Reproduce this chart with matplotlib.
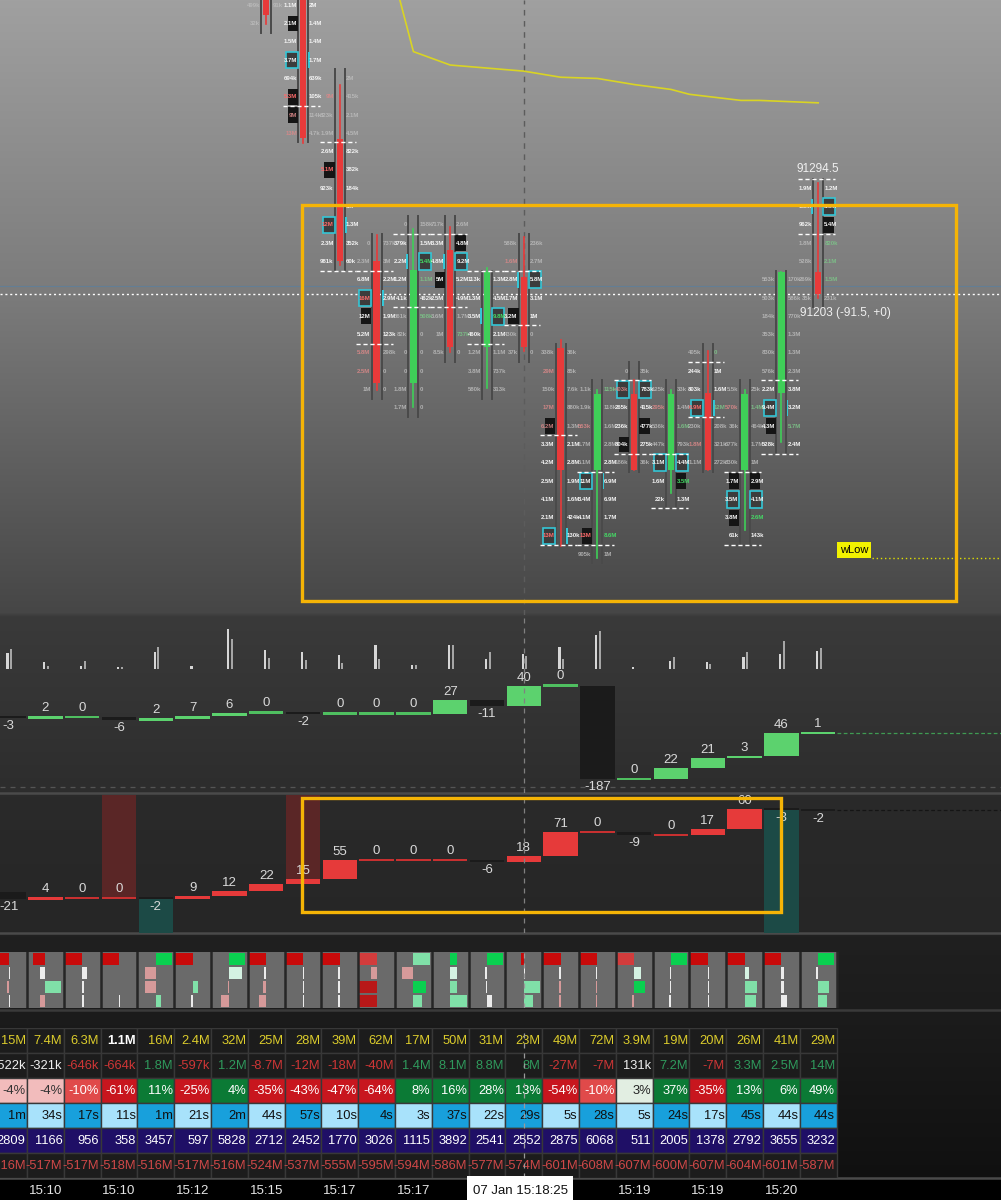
import numpy as np
import matplotlib.pyplot as plt
from matplotlib.patches import Rectangle

plt.rcParams['font.family'] = ['Liberation Sans', 'DejaVu Sans']

W, H = 1001, 1200
X0, COLW = 8.6, 36.8            # pixel centre of column 0, column width
XL, XR = -X0 / COLW, (W - X0) / COLW

# ---------------- data ----------------
time_labels = ['15:10', '15:10', '15:12', '15:15', '15:17', '15:17', '15:19', '15:19', '15:20']
time_cols = [1, 3, 5, 7, 9, 11, 17, 19, 21]
cursor_col = 14
cursor_label = '07 Jan 15:18:25'

# footprint candles: col, open, high, low, close, top row price, rows (bid, style, ask, style), value area lines
candles = [
    (7, 91455, 91460, 91425, 91432, 91440,
     [('499k', 'f', '91k', 'f'), ('32k', 'f', '', '')], []),
    (8, 91455, 91460, 91327, 91331, 91440,
     [('1.1M', 'w', '2M', 'w'), ('2.1M', 'wb', '1.4M', 'w'), ('1.5M', 'w', '1.4M', 'w'),
      ('3.7M', 'wc', '1.7M', 'w'), ('694k', 'w', '639k', 'w'), ('5.3M', 'rb', '105k', 'w'),
      ('9M', 'frb', '114k', 'f'), ('13M', 'fr', '4.7k', 'f')], [91357.5]),
    (9, 91330, 91375, 91227, 91230, 91380,
     [('', '', '2M', 'f'), ('9M', 'fr', '415k', 'f'), ('823k', 'f', '2.1M', 'f'),
      ('1.9M', 'f', '4.5M', 'f'), ('2.6M', 'w', '822k', 'w'), ('5.1M', 'rb', '382k', 'w'),
      ('923k', 'w', '184k', 'w'), ('', '', '3M', 'w'), ('12M', 'rc', '1.3M', 'w'),
      ('2.3M', 'w', '352k', 'w'), ('981k', 'w', '60k', 'w')], [91327.5, 91222.5]),
    (10, 91230, 91252, 91125, 91130, 91245,
     [('0', 'f', '737k', 'f'), ('2.3M', 'f', '3M', 'f'), ('6.8M', 'w', '2.2M', 'w'),
      ('16M', 'rc', '2.9M', 'w'), ('12M', 'wb', '1.9M', 'w'), ('5.2M', 'w', '123k', 'w'),
      ('5.8M', 'fr', '298k', 'f'), ('2.5M', 'fr', '0', 'f'), ('1M', 'f', '0', 'f')],
     [91222.5, 91162.5]),
    (11, 91130, 91257, 91111, 91223, 91260,
     [('0', 'f', '158k', 'f'), ('379k', 'w', '1.5M', 'w'), ('2.2M', 'w', '5.4M', 'gc'),
      ('1.2M', 'w', '1.1M', 'fg'), ('4.1k', 'w', '462k', 'w'), ('361k', 'f', '508k', 'fg'),
      ('82k', 'f', '0', 'f'), ('0', 'f', '0', 'f'), ('0', 'f', '0', 'f'),
      ('1.8M', 'f', '0', 'f'), ('1.7M', 'f', '0', 'f')], [91252.5, 91192.5]),
    (12, 91239, 91258, 91156, 91160, 91260,
     [('717k', 'f', '2.6M', 'f'), ('3.3M', 'w', '4.8M', 'wb'), ('4.8M', 'w', '9.2M', 'wc'),
      ('5M', 'wb', '5.2M', 'w'), ('2.5M', 'w', '4.9M', 'w'), ('3.6M', 'f', '1.7M', 'f'),
      ('1M', 'f', '737k', 'fg'), ('8.5k', 'f', '0', 'f')], [91252.5, 91192.5]),
    (13, 91160, 91225, 91126, 91221, 91215,
     [('113k', 'w', '1.3M', 'w'), ('1.3M', 'w', '4.5M', 'w'), ('3.5M', 'w', '9.8M', 'gc'),
      ('460k', 'w', '2.1M', 'w'), ('1.2M', 'f', '1.1M', 'f'), ('3.8M', 'f', '737k', 'f'),
      ('580k', 'f', '313k', 'f')], [91222.5, 91162.5]),
    (14, 91217, 91250, 91157, 91160, 91245,
     [('588k', 'f', '236k', 'f'), ('1.6M', 'fr', '2.7M', 'f'), ('2.8M', 'w', '5.8M', 'wc'),
      ('1.7M', 'w', '3.1M', 'w'), ('3.2M', 'wb', '1M', 'w'), ('430k', 'f', '0', 'f'),
      ('37k', 'f', '0', 'f')], [91222.5, 91177.5]),
    (15, 91159, 91166, 90997, 91059, 91155,
     [('338k', 'f', '36k', 'f'), ('29M', 'fr', '85k', 'f'), ('150k', 'f', '7.6k', 'f'),
      ('17M', 'fr', '880k', 'f'), ('6.2M', 'frb', '1.3M', 'f'), ('3.3M', 'w', '2.1M', 'w'),
      ('4.2M', 'w', '2.8M', 'w'), ('2.5M', 'w', '1.9M', 'w'), ('4.1M', 'w', '1.6M', 'w'),
      ('2.1M', 'w', '424k', 'w'), ('13M', 'rc', '130k', 'w')], [91087.5, 90997.5]),
    (16, 91059, 91125, 90987, 91121, 91125,
     [('1.1k', 'f', '115k', 'fg'), ('1.9k', 'f', '118k', 'f'), ('553k', 'fr', '1.6M', 'f'),
      ('1.7M', 'f', '2.8M', 'f'), ('5.1M', 'f', '2.8M', 'w'), ('11M', 'wc', '6.9M', 'w'),
      ('3.4M', 'w', '6.9M', 'w'), ('4.1M', 'w', '1.7M', 'w'), ('13M', 'rb', '8.6M', 'g'),
      ('905k', 'f', '1M', 'f')], [91057.5, 90997.5]),
    (17, 91121, 91133, 91059, 91059, 91140,
     [('0', 'f', '35k', 'f'), ('403k', 'frc', '783k', 'wc'), ('265k', 'w', '415k', 'w'),
      ('236k', 'w', '477k', 'wb'), ('804k', 'wb', '275k', 'w'), ('186k', 'f', '36k', 'f')],
     [91132.5, 91072.5]),
    (18, 91059, 91125, 91040, 91121, 91125,
     [('125k', 'f', '33k', 'f'), ('295k', 'fr', '1.4M', 'f'), ('536k', 'f', '1.6M', 'fg'),
      ('447k', 'f', '793k', 'f'), ('3.1M', 'wc', '4.4M', 'wc'), ('1.6M', 'w', '3.5M', 'gb'),
      ('22k', 'w', '1.3M', 'w')], [91072.5, 91027.5]),
    (19, 91122, 91157, 91059, 91059, 91155,
     [('405k', 'f', '0', 'fg'), ('244k', 'w', '1M', 'w'), ('803k', 'w', '1.6M', 'w'),
      ('6.9M', 'rc', '12M', 'fg'), ('230k', 'f', '208k', 'f'), ('1.8M', 'fr', '321k', 'f'),
      ('1.1M', 'f', '272k', 'f')], [91147.5, 91102.5]),
    (20, 91059, 91125, 91010, 91121, 91125,
     [('5.5k', 'f', '25k', 'f'), ('570k', 'fr', '1.4M', 'fg'), ('36k', 'f', '464k', 'f'),
      ('677k', 'f', '1.7M', 'f'), ('830k', 'f', '1M', 'f'), ('1.7M', 'wb', '2.9M', 'wb'),
      ('3.5M', 'wc', '4.1M', 'wc'), ('3.8M', 'wb', '2.6M', 'g'), ('61k', 'w', '143k', 'w')],
     [91057.5, 90997.5]),
    (21, 91122, 91221, 91082, 91221, 91215,
     [('553k', 'f', '170k', 'f'), ('503k', 'f', '586k', 'f'), ('184k', 'f', '770k', 'f'),
      ('353k', 'f', '1.3M', 'f'), ('830k', 'f', '1.3M', 'f'), ('576k', 'f', '2.3M', 'f'),
      ('2.2M', 'w', '3.8M', 'w'), ('9.4M', 'wc', '3.2M', 'w'), ('4.3M', 'wb', '5.7M', 'fg'),
      ('528k', 'w', '2.4M', 'w')], [91132.5, 91072.5]),
    (22, 91221, 91294.5, 91200, 91203, 91290,
     [('1.9M', 'w', '1.2M', 'w'), ('1.5M', 'w', '5.8M', 'wc'), ('962k', 'w', '5.4M', 'wb'),
      ('1.8M', 'f', '820k', 'fg'), ('528k', 'f', '2.1M', 'fg'), ('269k', 'f', '1.5M', 'fg'),
      ('35k', 'f', '231k', 'f')], [91297.5, 91252.5]),
]
last_high = 91294.5
last_close = 91203
last_change = '(-91.5, +0)'
wlow_price = 90987

vwap_x = [10.6, 11.0, 12.0, 14.0, 15.0, 16.0, 17.0, 18.0, 18.5, 19.9, 20.4, 22.0]
vwap_p = [91448, 91402, 91391, 91386, 91381, 91380, 91375, 91371, 91367, 91362, 91362, 91360]

vol_a = [16, 7, 3, 2, 17, 3, 40, 19, 17, 14, 24, 4, 24, 10, 15, 22, 34, 2, 8, 7, 12, 15, 18]
vol_b = [20, 3, 8, 2, 22, 0, 30, 11, 9, 6, 10, 4, 24, 17, 13, 10, 38, 0, 12, 5, 17, 28, 21]

delta_bars = [-3, 2, 0, -6, 2, 7, 6, 0, -2, 0, 0, 0, 27, -11, 40, 0, -187, 0, 22, 21, 3, 46, 1]
cvd_bars = [-21, 4, 0, 0, -2, 9, 12, 22, 15, 55, 0, 0, 0, -6, 18, 71, 0, -9, 0, 17, 60, -3, -2]
cvd_shade = [(3, 'up'), (8, 'up'), (4, 'down'), (21, 'down')]

# heatmap: per column 4 sub rows of (signed size, tone)
heat = [
    [(-0.27, 'R'), (0.04, 'w'), (-0.04, 'p'), (0.04, 'w')],
    [(-0.33, 'R'), (-0.14, 'w'), (0.43, 'g'), (-0.16, 'p')],
    [(-0.49, 'R'), (0.14, 'w'), (0.05, 'w'), (0.05, 'w')],
    [(-0.49, 'R'), None, None, (0.04, 'w')],
    [(0.43, 'G'), (-0.30, 'p'), (-0.30, 'p'), (0.14, 'g')],
    [(-0.49, 'R'), None, (0.16, 'g'), (-0.05, 'w')],
    [(0.43, 'G'), (0.35, 'm'), (-0.05, 'p'), (-0.22, 'p')],
    [(-0.49, 'R'), (-0.05, 'w'), (-0.08, 'p'), (-0.19, 'p')],
    [(-0.49, 'R'), (0.04, 'w'), (0.04, 'w'), (0.04, 'w')],
    [(-0.49, 'R'), (-0.04, 'w'), (-0.04, 'w'), (-0.05, 'w')],
    [(-0.49, 'L'), (-0.14, 'p'), (-0.49, 'D'), (-0.49, 'D')],
    [(0.46, 'g'), (-0.30, 'p'), (0.35, 'G'), (0.24, 'g')],
    [(0.19, 'G'), (0.19, 'm'), (0.19, 'g'), (0.46, 'g')],
    [(0.43, 'G'), (-0.05, 'w'), (-0.04, 'w'), (0.14, 'w')],
    [(-0.08, 'R'), (0.04, 'w'), (0.43, 'g'), (0.24, 'g')],
    [(-0.49, 'R'), (-0.05, 'w'), (-0.05, 'p'), (-0.05, 'p')],
    [(-0.49, 'R'), (-0.04, 'w'), (-0.05, 'p'), (-0.05, 'p')],
    [(-0.49, 'L'), (0.19, 'm'), (0.30, 'G'), (-0.05, 'p')],
    [(0.43, 'G'), (-0.04, 'w'), (-0.04, 'w'), (-0.05, 'w')],
    [(-0.49, 'R'), (0.04, 'w'), (0.04, 'w'), (0.04, 'w')],
    [(-0.49, 'R'), (0.11, 'm'), (0.35, 'g'), (0.30, 'g')],
    [(-0.49, 'R'), (0.08, 'w'), (0.08, 'w'), (0.16, 'w')],
    [(0.43, 'G'), (-0.05, 'w'), (0.30, 'g'), (0.24, 'g')],
]

tbl_volume = [15, 7.4, 6.3, 1.1, 16, 2.4, 32, 25, 28, 39, 62, 17, 50, 31, 23, 49, 72, 3.9, 19, 20, 26, 41, 29]
tbl_delta = [-522, -321, -646, -664, 1800, -597, 1200, -8700, -12000, -18000, -40000, 1400, 8100,
             8800, 8000, -27000, -7000, 131, 7200, -7000, 3300, 2500, 14000]
tbl_pct = [-4, -4, -10, -61, 11, -25, 4, -35, -43, -47, -64, 8, 16, 28, 13, -54, -10, 3, 37, -35, 13, 6, 49]
tbl_dur = ['1m', '34s', '17s', '11s', '1m', '21s', '2m', '44s', '57s', '10s', '4s', '3s', '37s',
           '22s', '29s', '5s', '28s', '5s', '24s', '17s', '45s', '44s', '44s']
tbl_trades = [2809, 1166, 956, 358, 3457, 597, 5828, 2712, 2452, 1770, 3026, 1115, 3892, 2541,
              2552, 2875, 6068, 511, 2005, 1378, 2792, 3655, 3232]
tbl_cvd = [-516, -517, -517, -518, -516, -517, -516, -524, -537, -555, -595, -594, -586, -577,
           -574, -601, -608, -607, -600, -607, -604, -601, -587]

# ---------------- styles ----------------
RED, GREEN = '#e83a3a', '#3fcf58'
TONES = {'w': ('#f4f4f4', 1.0), 'f': ('#bdbdbd', 0.85), 'r': ('#ff6b6b', 1.0),
         'fr': ('#d98888', 0.9), 'g': ('#45d865', 1.0), 'fg': ('#7cc488', 0.9)}
HEAT = {'R': '#c80a0a', 'L': '#d23c3c', 'D': '#b81818', 'G': '#0ad050', 'g': '#80e0a8',
        'm': '#d4f2e2', 'p': '#d69a9a', 'w': '#ececec'}


def panel(top, bottom):
    ax = fig.add_axes([0, 1 - bottom / H, 1, (bottom - top) / H])
    ax.set_xlim(XL, XR)
    ax.set_axis_off()
    return ax


fig = plt.figure(figsize=(W / 100, H / 100), dpi=100)

# background gradient
ax_bg = fig.add_axes([0, 0, 1, 1])
ax_bg.set_axis_off()
stops_y = [0, 300, 612, 616, 700, 790, 796, 930, 936, 1010, 1178, 1180, 1200]
stops_v = [160, 122, 70, 58, 52, 45, 42, 38, 32, 28, 16, 0, 0]
g = np.interp(np.arange(H), stops_y, stops_v) / 255
ax_bg.imshow(np.repeat(g[:, None, None], 3, axis=2), aspect='auto', extent=[0, 1, 1, 0])
ax_bg.set_xlim(0, 1)
ax_bg.set_ylim(1, 0)
for yy, c in [(793, '#4a4a4a'), (933, '#4a4a4a'), (1010, '#3a3a3a'), (1178, '#4a4a4a')]:
    ax_bg.axhline(yy / H, color=c, lw=1.8)

# ---------------- main footprint panel ----------------
ax = panel(0, 615)
ax.set_ylim(90940.2, 91444.3)
ax.axvline(cursor_col, color='#5c5c5c', ls=(0, (4, 4)), lw=1, zorder=1)
ax.axhline(91210, color='#5d7f9c', lw=0.8, alpha=0.8, zorder=1)
ax.axhline(last_close, color='white', ls=(0, (1.5, 2)), lw=1, zorder=1)
ax.plot(vwap_x, vwap_p, color='#d9d424', lw=1.2, zorder=2)

for k, o, hi, lo, c, top, rows, vals in candles:
    col = RED if c < o else GREEN
    bot = top - 15 * (len(rows) - 1)
    for dx in (-0.135, 0.135):
        ax.plot([k + dx, k + dx], [top + 7.5, bot - 7.5], color='#4a4a4a', lw=1.4, zorder=2)
    ax.plot([k, k], [lo, hi], color=col, lw=1.2, zorder=3)
    ax.add_patch(Rectangle((k - 0.085, min(o, c)), 0.17, abs(o - c), fc=col, ec='none', zorder=3))
    for v in vals:
        ax.plot([k - 0.55, k + 0.45], [v, v], color='white', ls=(0, (3, 2)), lw=1, zorder=5)
    for i, (lt, ls, rt, rs) in enumerate(rows):
        p = top - 15 * i
        sides = [(lt, ls, -1), (rt, rs, 1)]
        boxes = [s[-1] if s and s[-1] in 'cb' else '' for _, s, _ in sides]
        for (txt, st, sgn), box, other in zip(sides, boxes, boxes[::-1]):
            if box == 'b':
                x0 = k - 0.42 if sgn < 0 else k + 0.14
                ax.add_patch(Rectangle((x0, p - 6.5), 0.28, 13, fc='#151515', ec='none', zorder=3))
            if box == 'c':
                x0 = k - 0.47 if sgn < 0 else k + 0.14
                ax.add_patch(Rectangle((x0, p - 6.8), 0.33, 13.6, fc='#3c3c3c', ec='#34c6d6',
                                       lw=1.2, zorder=4))
                if other != 'c':
                    xm = k + 0.14 if sgn < 0 else k - 0.19
                    ax.add_patch(Rectangle((xm, p - 6.5), 0.05, 13, fc='#34c6d6', ec='none', zorder=4))
            if txt:
                tone = st[:-1] if box else st
                color, a = TONES[tone]
                ax.text(k + sgn * 0.165, p, txt, ha='right' if sgn < 0 else 'left', va='center',
                        fontsize=4.3, fontweight='bold', color=color, alpha=a, zorder=6)

ax.text(22, last_high + 6, f'{last_high}', ha='center', va='bottom', fontsize=8.5, color='#f0f0f0', zorder=7)
ax.text(21.5, 91188, f'{last_close} {last_change}', ha='left', va='center', fontsize=8.5,
        color='#f0f0f0', zorder=7)
ax.text(22.97, 90993.5, 'wLow', ha='center', va='center', fontsize=8, color='black', zorder=7,
        bbox=dict(fc='#f2f200', ec='none', boxstyle='square,pad=0.25'))
ax.plot([23.46, XR], [wlow_price, wlow_price], color='#e0e000', ls=(0, (1, 2)), lw=1, zorder=2)
ax.add_patch(Rectangle((7.97, 90952), 25.74 - 7.97, 91276 - 90952, fill=False, ec='#f5b406',
                       lw=2.4, zorder=8, clip_on=False))


def waterfall(ax, vals, up, down, zero, unit_px):
    lv = np.concatenate([[0], np.cumsum(vals)])
    mh, pad = 2.2 / unit_px, 2 / unit_px
    for k, v in enumerate(vals):
        lo, hi = sorted((lv[k], lv[k + 1]))
        if hi - lo < mh:
            mid = (lo + hi) / 2
            lo, hi = mid - mh / 2, mid + mh / 2
        col = up if v > 0 else down if v < 0 else zero
        ax.add_patch(Rectangle((k - 0.47, lo), 0.94, hi - lo, fc=col, ec='none', zorder=3))
        if v >= 0:
            ax.text(k, hi + pad, str(v), ha='center', va='bottom', fontsize=9.5, color='#dadada', zorder=5)
        else:
            ax.text(k, lo - pad, str(v), ha='center', va='top', fontsize=9.5, color='#dadada', zorder=5)
    return lv


# ---------------- volume mini bars ----------------
axv = panel(620, 669)
axv.set_ylim(0, 49)
axv.bar(np.arange(23) - 0.03, vol_a, width=0.055, color='#d6d6d6')
axv.bar(np.arange(23) + 0.07, vol_b, width=0.055, color='#a6a6a6')

# ---------------- delta waterfall ----------------
ax2 = panel(615, 793)
ax2.set_ylim(-153, 203)
ax2.axvline(cursor_col, color='#808080', ls=(0, (4, 4)), lw=0.9, zorder=6)
ax2.axhline(-141, color='#555555', ls=(0, (4, 4)), lw=0.9)
lv2 = waterfall(ax2, delta_bars, '#5cd26e', '#1b1b1b', '#4fbf60', 0.5)
ax2.plot([22.5, XR], [lv2[-1], lv2[-1]], color='#3f9a52', ls=(0, (3, 2)), lw=0.9)

# ---------------- cumulative delta waterfall ----------------
ax3 = panel(795, 933)
ax3.set_ylim(-120, 285)
ax3.axvline(cursor_col, color='#808080', ls=(0, (4, 4)), lw=0.9, zorder=6)
lv3 = np.concatenate([[0], np.cumsum(cvd_bars)])
for k, d in cvd_shade:
    if d == 'up':
        y0 = max(lv3[k], lv3[k + 1])
        ax3.add_patch(Rectangle((k - 0.47, y0), 0.94, 285 - y0, fc='#5a2626', ec='none', zorder=1))
    else:
        y0 = min(lv3[k], lv3[k + 1])
        ax3.add_patch(Rectangle((k - 0.47, -120), 0.94, y0 + 120, fc='#1c4a46', ec='none', zorder=1))
waterfall(ax3, cvd_bars, '#e63a3a', '#1b1b1b', '#c83030', 0.34)
ax3.plot([22.5, XR], [lv3[-1], lv3[-1]], color='#151515', ls=(0, (3, 2)), lw=0.9)
ax3.add_patch(Rectangle((7.97, -58), 20.99 - 7.97, 277 + 58, fill=False, ec='#f5b406',
                        lw=2.4, zorder=8, clip_on=False))

# ---------------- heatmap strip ----------------
axh = panel(952, 1008)
axh.set_ylim(4, 0)
for k, cells in enumerate(heat):
    axh.add_patch(Rectangle((k - 0.5, 0), 1, 4, fc='#6a6a6a', ec='none', zorder=1))
    for r, cell in enumerate(cells):
        if cell is None:
            continue
        w, tone = cell
        axh.add_patch(Rectangle((k + min(w, 0), r + 0.04), abs(w), 0.92, fc=HEAT[tone], ec='none', zorder=2))
    axh.axvline(k + 0.5, color='#262626', lw=1.8, zorder=3)
axh.axvline(cursor_col, color='#9a9a9a', ls=(0, (4, 4)), lw=0.9, zorder=4)

# ---------------- stats table ----------------
axt = panel(1028, 1178)
axt.set_ylim(6, 0)


def fmt_k(v):
    return f'{v / 1000:g}M' if abs(v) >= 1000 else f'{v}k'


for k in range(23):
    vol = tbl_volume[k]
    dl = tbl_delta[k]
    pc = tbl_pct[k]
    if pc >= 4:
        pbg, pfc = '#0b7a35', 'white'
    elif pc >= 0:
        pbg, pfc = '#e2eee2', '#222222'
    elif pc > -8:
        pbg, pfc = '#f2bcbc', '#333333'
    elif pc > -20:
        pbg, pfc = '#e04a4a', 'white'
    else:
        pbg, pfc = '#c8161e', 'white'
    dcol = '#f0f0f0' if abs(dl) < 550 else ('#cf3636' if dl < 0 else '#2f9a5c')
    cells = [
        (f'{vol:g}M', '#1c1c1c', '#ffffff' if vol < 2 else '#dccd2c', 'bold' if vol < 2 else 'normal'),
        (fmt_k(dl), '#1c1c1c', dcol, 'normal'),
        (f'{pc}%', pbg, pfc, 'normal'),
        (tbl_dur[k], '#18a0dc' if k % 2 == 0 else '#a8e2fb', '#111111', 'normal'),
        (str(tbl_trades[k]), '#1f0f66', 'white', 'normal'),
        (f'{tbl_cvd[k]}M', '#1c1c1c', '#d04848', 'normal'),
    ]
    for r, (txt, bg, fc, fw) in enumerate(cells):
        axt.add_patch(Rectangle((k - 0.5, r), 1, 1, fc=bg, ec='#383838', lw=1, zorder=1))
        axt.text(k + 0.46, r + 0.52, txt, ha='right', va='center', fontsize=9.3,
                 color=fc, fontweight=fw, zorder=3)
axt.axvline(cursor_col, color='#9a9a9a', ls=(0, (4, 4)), lw=0.9, zorder=4)

# ---------------- time axis ----------------
axx = panel(1180, 1200)
axx.set_ylim(0, 1)
for c, lab in zip(time_cols, time_labels):
    axx.text(c, 0.45, lab, ha='center', va='center', fontsize=9.5, color='#e6e6e6')
axx.add_patch(Rectangle((cursor_col - 1.55, 0), 2.9, 1.2, fc='white', ec='none', clip_on=False))
axx.text(cursor_col - 0.1, 0.45, cursor_label, ha='center', va='center', fontsize=9.5, color='#111111')

fig.savefig('out.png', dpi=100)
